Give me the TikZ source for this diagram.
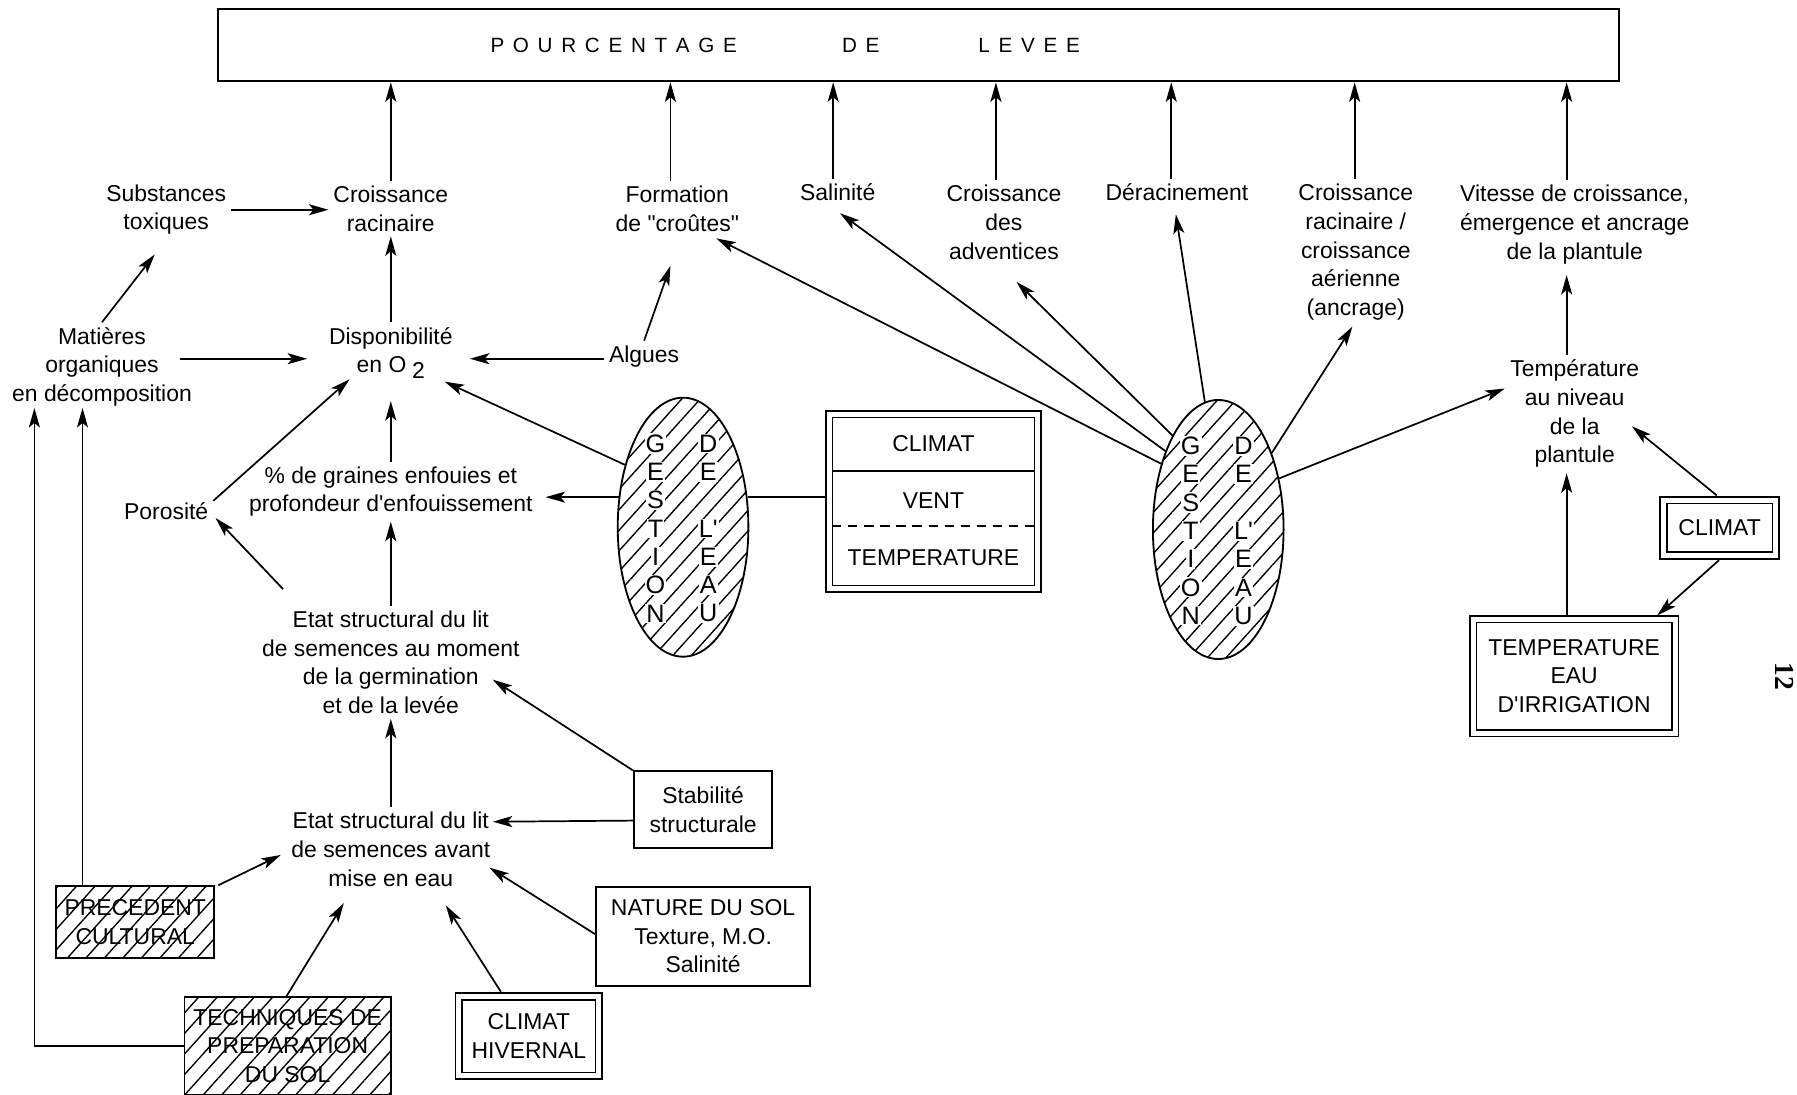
\documentclass[tikz,border=0pt]{standalone}
\usepackage{fontspec}
\setmainfont{Liberation Sans}[Ligatures=TeXOff]
\newfontfamily\pagenumfont{Liberation Serif}
\usetikzlibrary{arrows.meta,shapes.geometric,patterns.meta,calc}
\makeatletter
% spread the letters of one word apart
\newcommand\lspread[1]{\@tfor\lsch:=#1\do{\lsch\hspace{3.8pt}}\unskip}
\makeatother

\begin{document}
\begin{tikzpicture}[x=0.5pt,y=-0.5pt,
  every node/.style={font=\fontsize{10}{12.5}\selectfont},
  lbl/.style={align=center,inner sep=2pt},
  arr/.style={line width=0.75pt,-{Stealth[length=8.5pt,width=4.8pt,inset=2pt]}},
  link/.style={line width=0.75pt},
  sbox/.style={draw,line width=0.85pt,align=center,inner sep=0pt},
  dbox/.style={draw,double,double distance=2.2pt,line width=0.7pt,align=center,inner sep=0pt},
  hatch/.style={pattern={Lines[angle=48,distance=6pt,line width=0.6pt]}},
  hbox/.style={draw,line width=0.8pt,align=center,inner sep=0pt,hatch},
  water/.style={ellipse,draw,line width=0.8pt,inner sep=0pt,
    minimum width=57pt,minimum height=113pt,hatch},
  letter/.style={fill=white,inner sep=0.5pt,font=\fontsize{11}{11}\selectfont},
  title/.style={font=\fontsize{9}{9}\selectfont,inner sep=0pt},
]
\useasboundingbox (0,0) rectangle (1568,955);

% title bar
\node[draw,line width=0.85pt,minimum width=611.5pt,minimum height=31.5pt,inner sep=0pt] (top) at (801.5,39.5) {};
\node[title] (t1) at (535.5,40) {\lspread{POURCENTAGE}};
\node[title] (t2) at (751,40) {\lspread{DE}};
\node[title] (t3) at (898,40) {\lspread{LEVEE}};

% effects on emergence
\node[lbl] (sub) at (145,183) {Substances\\toxiques};
\node[lbl] (crac) at (341,182) {Croissance\\racinaire};
\node[lbl] (form) at (591,182) {Formation\\de "croûtes"};
\node[lbl] (sal) at (731,168) {Salinité};
\node[lbl] (adv) at (876,194) {Croissance\\des\\adventices};
\node[lbl] (der) at (1027,168) {Déracinement};
\node[lbl] (cra) at (1183,220) {Croissance\\racinaire /\\croissance\\aérienne\\(ancrage)};
\node[lbl] (vit) at (1374,196) {Vitesse de croissance,\\émergence et ancrage\\de la plantule};

% intermediate states
\node[lbl] (mat) at (89,320) {Matières\\organiques\\en décomposition};
\node[lbl] (dispo) at (341,308) {Disponibilité\\en O\hspace{2.5pt}\raisebox{-2.5pt}{2}};
\node[lbl] (alg) at (562,311) {Algues};
\node[lbl] (pct) at (341,429) {\% de graines enfouies et\\profondeur d'enfouissement};
\node[lbl] (por) at (145,446) {Porosité};
\node[lbl] (etat1) at (341,578) {Etat structural du lit\\de semences au moment\\de la germination\\et de la levée};
\node[lbl] (etat0) at (341,741) {Etat structural du lit\\de semences avant\\mise en eau};
\node[lbl] (temp) at (1374,361) {Température\\au niveau\\de la\\plantule};

% factors
\node[sbox,minimum width=60.5pt,minimum height=33.5pt] (stab) at (613.5,706.5) {Stabilité\\structurale};
\node[sbox,minimum width=93.5pt,minimum height=43pt] (nat) at (613.5,817) {NATURE DU SOL\\Texture, M.O.\\Salinité};
\node[dbox,minimum width=61.1pt,minimum height=34.6pt] (chiv) at (461.5,904) {CLIMAT\\HIVERNAL};
\node[dbox,minimum width=49.1pt,minimum height=24.1pt] (clim) at (1500.5,460.5) {CLIMAT};
\node[dbox,minimum width=88.1pt,minimum height=49.6pt] (teau) at (1373.5,590) {TEMPERATURE\\EAU\\D'IRRIGATION};
\node[hbox,minimum width=69pt,minimum height=31.5pt] (prec) at (118,804.5) {PRECEDENT\\CULTURAL};
\node[hbox,minimum width=90pt,minimum height=42.5pt] (tech) at (251,912.5) {TECHNIQUES DE\\PREPARATION\\DU SOL};

% climate box with three compartments
\node[dbox,minimum width=91.1pt,minimum height=76.1pt] (cvt) at (814.5,437.5) {};
\draw[line width=0.7pt] ($(cvt)+(-88.3,-26.5)$) -- ($(cvt)+(88.3,-26.5)$);
\draw[line width=0.7pt,dash pattern=on 4pt off 3pt] ($(cvt)+(-88.3,21.5)$) -- ($(cvt)+(88.3,21.5)$);
\node (cvt1) at ($(cvt)+(0,-50.5)$) {CLIMAT};
\node (cvt2) at ($(cvt)+(0,-0.5)$) {VENT};
\node (cvt3) at ($(cvt)+(0,49.5)$) {TEMPERATURE};

% water management ellipses
\node[water] (ell1) at (596,460) {};
\node[water] (ell2) at (1063,462) {};
\foreach \e in {ell1,ell2} {
  \foreach \lt [count=\i from 0] in {G,E,S,T,I,O,N}
    \node[letter] (\e-g\i) at ($(\e)+(-24,-73+24.7*\i)$) {\lt};
  \foreach \i/\lt in {0/D,1/E,3/L',4/E,5/A,6/U}
    \node[letter] (\e-d\i) at ($(\e)+(22,-73+24.7*\i)$) {\lt};
}

% page number
\node[rotate=-90,font={\pagenumfont\bfseries\fontsize{12}{12}\selectfont}] (pg) at (1557,590) {12};

% arrows into the title bar
\foreach \n/\dx in {crac/0pt,form/-3pt,sal/-2pt,adv/-3.5pt,der/-2.5pt,cra/-0.5pt,vit/-3.5pt}
  \draw[arr] ([xshift=\dx]\n.north) -- ([xshift=\dx]\n.north |- top.south);

% left part
\draw[arr] (sub.east) -- (sub.east -| crac.west);
\draw[arr] (mat.north) -- ($(sub)+(-10,39)$);
\draw[arr] ($(mat)+(68,-7)$) -- ($(dispo)+(-73,5)$);
\draw[arr] ($(alg.west)+(0,2)$) -- ($(dispo)+(69,5)$);
\draw[arr] (alg.north) -- ($(form)+(-6,50)$);
\draw[arr] (dispo.north) -- (crac.south);
\draw[arr] (pct.north) -- ($(dispo)+(0,42)$);
\draw[arr] ($(por.east)+(0,-9)$) -- ($(dispo)+(-36,23)$);
\draw[arr] ($(etat1)+(-94,-64)$) -- ($(por.east)+(2,6)$);
\draw[arr] (etat1.north) -- (pct.south);
\draw[arr] (etat0.north) -- (etat1.south);
\draw[arr] (stab.north west) -- ($(etat1)+(89,15)$);
\draw[arr] ($(stab.west)+(0,9.5)$) -- ($(etat0)+(89,-24)$);
\draw[arr] ($(nat.west)+(0,-2)$) -- ($(etat0)+(86,16)$);
\draw[arr] ($(chiv.north)+(-24.5,-3.4)$) -- ($(etat0)+(48,49)$);
\draw[arr] ($(tech.north)+(-1,0)$) -- ($(etat0)+(-41,47)$);
\draw[arr] ($(prec.north east)+(3,0)$) -- ($(etat0)+(-96,5)$);
\draw[arr] ($(prec.north)+(-46,0)$) -- ($(mat)+(-17,36)$);
\draw[arr] (tech.west) -| ($(mat)+(-59,36)$);

% first water management node
\draw[arr] (ell1.133) -- ($(dispo)+(47,25)$);
\draw[arr] (ell1.155) -- ($(ell1.155 -| pct.east)+(7,0)$);
\draw[link,shorten >=1.4pt] (ell1.25) -- (ell1.25 -| cvt.west);

% second water management node
\draw[arr] (ell2.131) -- ($(form)+(34,26)$);
\draw[arr] (ell2.124) -- ($(sal)+(2,18)$);
\draw[arr] (ell2.116) -- ($(adv)+(11,52)$);
\draw[arr] (ell2.96) -- ($(der)+(-1,19)$);
\draw[arr] (ell2.55) -- ($(cra)+(-3,65)$);
\draw[arr] (ell2.40) -- ($(temp)+(-61,-22)$);

% right part
\draw[arr] ($(temp.north)+(-7,0)$) -- ($(vit)+(-7,44)$);
\draw[arr] ($(teau.north)+(-6.5,-3.4)$) -- ($(temp)+(-7,52)$);
\draw[arr] ($(clim.north)+(-2.5,-3.4)$) -- ($(temp)+(50,11)$);
\draw[arr] ($(clim.south)+(-0.5,3.4)$) -- ($(teau)+(72.5,-53)$);
\end{tikzpicture}
\end{document}
